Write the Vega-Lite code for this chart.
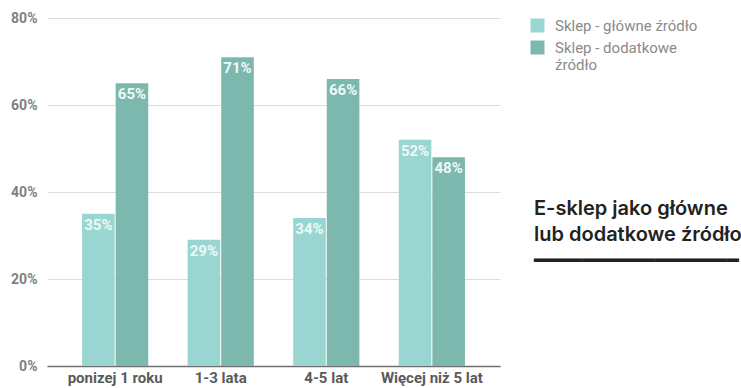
{
  "$schema": "https://vega.github.io/schema/vega-lite/v6.json",
  "width": 453,
  "height": 348,
  "autosize": {"type": "none"},
  "padding": {"left": 47, "top": 18, "right": 241, "bottom": 22},
  "background": "white",
  "config": {
    "font": "Roboto",
    "view": {"stroke": null}
  },
  "title": {
    "text": ["E-sklep jako główne", "lub dodatkowe źródło", "━━━━━━━━━━━━━━━━━"],
    "orient": "top",
    "anchor": "end",
    "frame": "bounds",
    "align": "left",
    "baseline": "top",
    "offset": 0,
    "dx": -164,
    "dy": 260,
    "font": "Inter, DejaVu Sans",
    "fontSize": 20,
    "fontWeight": 600,
    "color": "#222222",
    "lineHeight": 26
  },
  "data": {
    "values": [
      {"okres": "ponizej 1 roku", "seria": "Sklep - główne źródło", "wartosc": 0.35},
      {"okres": "ponizej 1 roku", "seria": "Sklep - dodatkowe źródło", "wartosc": 0.65},
      {"okres": "1-3 lata", "seria": "Sklep - główne źródło", "wartosc": 0.29},
      {"okres": "1-3 lata", "seria": "Sklep - dodatkowe źródło", "wartosc": 0.71},
      {"okres": "4-5 lat", "seria": "Sklep - główne źródło", "wartosc": 0.34},
      {"okres": "4-5 lat", "seria": "Sklep - dodatkowe źródło", "wartosc": 0.66},
      {"okres": "Więcej niż 5 lat", "seria": "Sklep - główne źródło", "wartosc": 0.52},
      {"okres": "Więcej niż 5 lat", "seria": "Sklep - dodatkowe źródło", "wartosc": 0.48}
    ]
  },
  "encoding": {
    "x": {
      "field": "okres",
      "type": "nominal",
      "sort": null,
      "scale": {"paddingInner": 0.373, "paddingOuter": 0.332},
      "axis": {
        "title": null,
        "labelAngle": 0,
        "ticks": false,
        "domainColor": "#6f6f6f",
        "domainWidth": 1.5,
        "labelColor": "#5a5a5a",
        "labelFont": "Roboto",
        "labelFontWeight": "bold",
        "labelFontSize": 15,
        "labelPadding": 4
      }
    },
    "xOffset": {
      "field": "seria",
      "type": "nominal",
      "sort": ["Sklep - główne źródło", "Sklep - dodatkowe źródło"],
      "scale": {"paddingInner": 0.03}
    },
    "y": {
      "field": "wartosc",
      "type": "quantitative",
      "scale": {"domain": [0, 0.8]},
      "axis": {
        "title": null,
        "values": [0, 0.2, 0.4, 0.6, 0.8],
        "format": ".0%",
        "domain": false,
        "ticks": false,
        "gridColor": "#dddddd",
        "labelColor": "#7f7f7f",
        "labelFont": "Roboto",
        "labelFontWeight": "bold",
        "labelFontSize": 14,
        "labelPadding": 10
      }
    }
  },
  "layer": [
    {
      "mark": {"type": "bar", "cornerRadius": 0},
      "encoding": {
        "color": {
          "field": "seria",
          "type": "nominal",
          "sort": ["Sklep - główne źródło", "Sklep - dodatkowe źródło"],
          "scale": {"range": ["#9ad6d1", "#7db8af"]},
          "legend": {
            "title": null,
            "orient": "right",
            "offset": 30,
            "padding": 0,
            "symbolType": "square",
            "symbolSize": 196,
            "symbolStrokeWidth": 0,
            "symbolOpacity": 1,
            "labelFont": "Roboto",
            "labelFontSize": 15,
            "labelLineHeight": 15,
            "labelColor": "#8a8a8a",
            "labelOffset": 10,
            "labelLimit": 300,
            "rowPadding": 6,
            "labelExpr": "datum.label == 'Sklep - dodatkowe źródło' ? ['Sklep - dodatkowe', 'źródło'] : datum.label"
          }
        }
      }
    },
    {
      "mark": {
        "type": "text",
        "baseline": "top",
        "dy": 4,
        "color": "#eef8f7",
        "font": "Roboto",
        "fontWeight": "bold",
        "fontSize": 15
      },
      "encoding": {
        "text": {"field": "wartosc", "type": "quantitative", "format": ".0%"}
      }
    }
  ]
}
